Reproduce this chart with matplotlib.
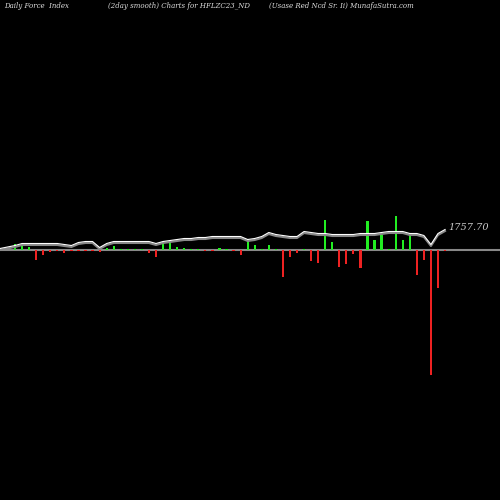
import matplotlib
matplotlib.use("Agg")
import matplotlib.pyplot as plt
import numpy as np

bars = [6,4,3,-10,-5,-2,-1,-3,-1,-1,-1,-1,-2,2,4,1,1,1,1,-3,-7,8,8,3,2,1,1,-1,-1,2,1,-1,-5,11,
        5,1,5,1,-27,-7,-3,1,-11,-13,30,8,-17,-14,-4,-18,29,10,15,1,34,10,16,-25,-10,-125,-38,-1]
line = [3,5,5,5,5,5,5,4,3,6,7,7,1,5,7,7,7,7,7,7,5,7,8,9,10,10,11,11,12,12,12,12,12,9,
        10,12,16,14,13,12,12,17,16,15,15,14,14,14,14,15,15,15,16,17,17,17,15,15,13,4,15,19]
last_label = "1757.70"

fig = plt.figure(figsize=(5,5), dpi=100, facecolor="black")
ax = fig.add_axes([0,0,1,1], facecolor="black")
ax.set_xlim(0,500); ax.set_ylim(-250,250); ax.axis("off")
x = 15 + 7.05*np.arange(len(bars))
b = np.array(bars)
ax.axhline(0, color="#888888", lw=1.5, zorder=1)
ax.bar(x, b, width=2.2, color=np.where(b>=0, "#22ee22", "#ee2222"), zorder=2)
lx = np.concatenate([[0], x]); ly = np.concatenate([[0], line])
ax.plot(lx, ly, color="#888888", lw=1.5, zorder=3)
ax.plot(lx, np.array(ly)+1.5, color="white", lw=0.8, zorder=4)
ax.text(448, 22, last_label, color="#cccccc", fontsize=7, style="italic", family="DejaVu Serif", va="center")
kw = dict(color="#dddddd", fontsize=5, style="italic", family="DejaVu Serif", va="center", transform=ax.transAxes)
ax.text(0.008, 0.988, "Daily Force  Index", **kw)
ax.text(0.215, 0.988, "(2day smooth) Charts for HFLZC23_ND", **kw)
ax.text(0.538, 0.988, "(Usase Red Ncd Sr. Ii) MunafaSutra.com", **kw)
fig.savefig("out.png", dpi=100, facecolor="black")
